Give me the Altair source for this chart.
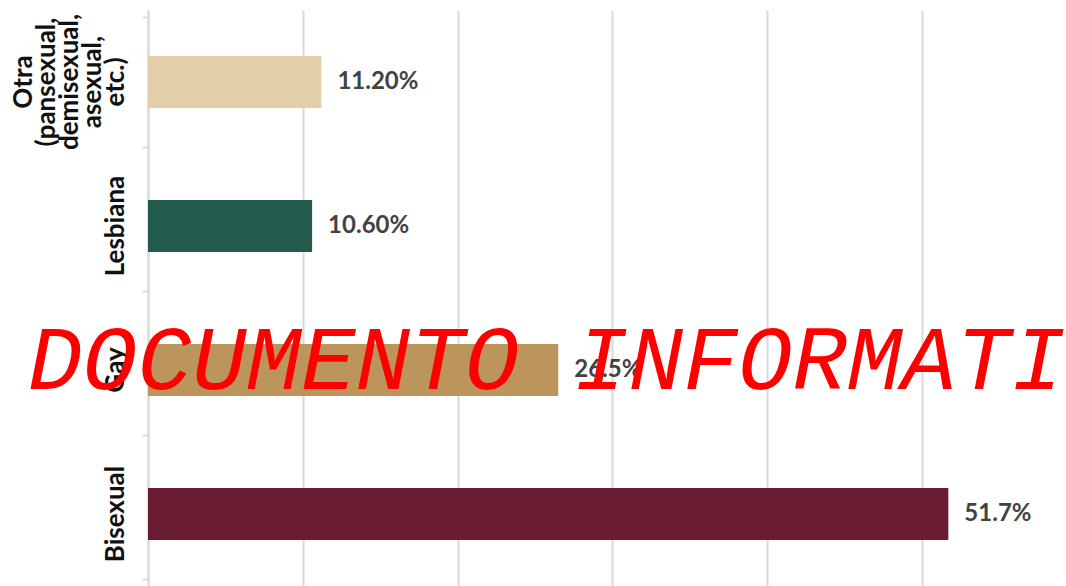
import altair as alt
import pandas as pd

# Orientation categories (top to bottom) with their shares in percent
categories = ["Otra (pansexual, demisexual, asexual, etc.)", "Lesbiana", "Gay", "Bisexual"]
values = [11.2, 10.6, 26.5, 51.7]
value_labels = ["11.20%", "10.60%", "26.5%", "51.7%"]
colors = ["#E2CFA7", "#235B4E", "#BC955C", "#691C32"]
grid_ticks = [0, 10, 20, 30, 40, 50]
watermark = "DOCUMENTO INFORMATIVO"

df = pd.DataFrame({
    "categoria": categories,
    "valor": values,
    "etiqueta": value_labels,
})

FONT = "Lato"
LINE_H = 23

x_enc = alt.X(
    "valor:Q",
    scale=alt.Scale(domain=[0, 59.3], nice=False, zero=True),
    axis=alt.Axis(
        values=grid_ticks, grid=True, labels=False, ticks=False, domain=False,
        title=None, gridColor="#dadada", gridWidth=2,
    ),
)
y_enc = alt.Y(
    "categoria:N",
    sort=categories,
    axis=alt.Axis(
        title=None,
        labels=False,
        tickBand="extent",
        tickSize=6,
        tickColor="#dadada",
        tickWidth=2,
        domainColor="#dadada",
        domainWidth=2,
    ),
)

bars = alt.Chart(df).mark_bar(size=52).encode(
    x=x_enc,
    y=y_enc,
    color=alt.Color("categoria:N", scale=alt.Scale(domain=categories, range=colors), legend=None),
)

texts = alt.Chart(df).mark_text(
    align="left", baseline="middle", dx=16, font=FONT, fontWeight="bold",
    fontSize=24, color="#424242",
).encode(
    x="valor:Q",
    y=alt.Y("categoria:N", sort=categories),
    text="etiqueta:N",
)


# Rotated category names left of the axis; words wrap onto separate lines
def category_names(multi_line):
    test = "indexof(datum.categoria, ' ') >= 0"
    n_extra = 4 if multi_line else 0
    return alt.Chart(df).transform_filter(
        test if multi_line else "!(" + test + ")"
    ).mark_text(
        angle=270, align="center", baseline="bottom", lineBreak=" ",
        lineHeight=LINE_H, dy=-n_extra * LINE_H, font=FONT, fontWeight="bold",
        fontSize=26, color="#111111",
    ).encode(
        x=alt.value(-19),
        y=alt.Y("categoria:N", sort=categories),
        text="categoria:N",
    )


stamp = alt.Chart(pd.DataFrame({"t": [watermark]})).mark_text(
    align="left", baseline="alphabetic", font="Liberation Mono", fontStyle="italic",
    fontSize=91, color="#ff0000",
).encode(
    x=alt.value(-120),
    y=alt.value(379),
    text="t:N",
)

chart = alt.layer(bars, texts, category_names(False), category_names(True), stamp).properties(
    width=918,
    height=576,
    autosize=alt.AutoSizeParams(type="none"),
    padding={"left": 148, "top": 10, "right": 0, "bottom": 0},
).configure_view(stroke=None)

chart.save("out.html", embed_options={"renderer": "svg", "actions": False})
